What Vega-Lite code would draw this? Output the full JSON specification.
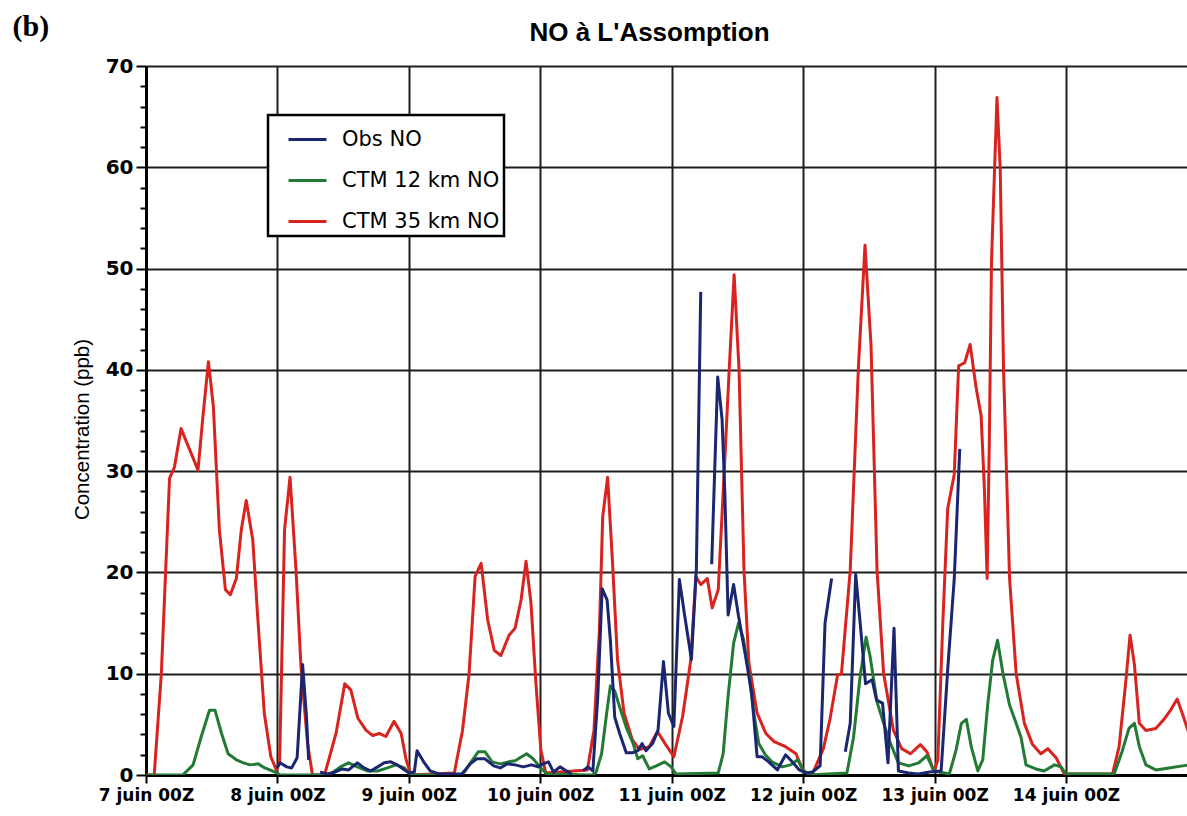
{
"$schema": "https://vega.github.io/schema/vega-lite/v6.json",
"width": 1041, "height": 709,
"autosize": {"type": "none"},
"padding": {"left": 146, "top": 66, "right": 0, "bottom": 41},
"background": "white",
"config": {"view": {"stroke": null}},
"data": {"values": [
{"s":"CTM 35 km NO","g":"r","h":0,"v":0},{"s":"CTM 35 km NO","g":"r","h":1.5,"v":0},{"s":"CTM 35 km NO","g":"r","h":2.8,"v":10.0},{"s":"CTM 35 km NO","g":"r","h":4.3,"v":29.3},{"s":"CTM 35 km NO","g":"r","h":5.2,"v":30.4},{"s":"CTM 35 km NO","g":"r","h":6.4,"v":34.2},{"s":"CTM 35 km NO","g":"r","h":9.5,"v":30.1},{"s":"CTM 35 km NO","g":"r","h":10.4,"v":35.4},{"s":"CTM 35 km NO","g":"r","h":11.4,"v":40.8},{"s":"CTM 35 km NO","g":"r","h":12.3,"v":36.4},{"s":"CTM 35 km NO","g":"r","h":13.4,"v":24.2},{"s":"CTM 35 km NO","g":"r","h":14.5,"v":18.3},{"s":"CTM 35 km NO","g":"r","h":15.4,"v":17.8},{"s":"CTM 35 km NO","g":"r","h":16.5,"v":19.4},{"s":"CTM 35 km NO","g":"r","h":17.4,"v":24.2},{"s":"CTM 35 km NO","g":"r","h":18.3,"v":27.1},{"s":"CTM 35 km NO","g":"r","h":19.5,"v":23.2},{"s":"CTM 35 km NO","g":"r","h":20.4,"v":15.6},{"s":"CTM 35 km NO","g":"r","h":21.6,"v":6.1},{"s":"CTM 35 km NO","g":"r","h":22.8,"v":1.8},{"s":"CTM 35 km NO","g":"r","h":23.8,"v":0.5},{"s":"CTM 35 km NO","g":"r","h":24.4,"v":1.2},{"s":"CTM 35 km NO","g":"r","h":25.3,"v":24.2},{"s":"CTM 35 km NO","g":"r","h":26.3,"v":29.4},{"s":"CTM 35 km NO","g":"r","h":27.4,"v":20.2},{"s":"CTM 35 km NO","g":"r","h":28.3,"v":10.7},{"s":"CTM 35 km NO","g":"r","h":29.5,"v":3.1},{"s":"CTM 35 km NO","g":"r","h":30.4,"v":0},{"s":"CTM 35 km NO","g":"r","h":32.6,"v":0},{"s":"CTM 35 km NO","g":"r","h":34.7,"v":4.1},{"s":"CTM 35 km NO","g":"r","h":36.3,"v":9.0},{"s":"CTM 35 km NO","g":"r","h":37.4,"v":8.4},{"s":"CTM 35 km NO","g":"r","h":38.7,"v":5.6},{"s":"CTM 35 km NO","g":"r","h":40.2,"v":4.4},{"s":"CTM 35 km NO","g":"r","h":41.4,"v":3.9},{"s":"CTM 35 km NO","g":"r","h":42.6,"v":4.1},{"s":"CTM 35 km NO","g":"r","h":43.8,"v":3.8},{"s":"CTM 35 km NO","g":"r","h":45.3,"v":5.3},{"s":"CTM 35 km NO","g":"r","h":46.6,"v":4.1},{"s":"CTM 35 km NO","g":"r","h":47.5,"v":1.5},{"s":"CTM 35 km NO","g":"r","h":48.4,"v":0},{"s":"CTM 35 km NO","g":"r","h":56.3,"v":0.2},{"s":"CTM 35 km NO","g":"r","h":57.8,"v":4.4},{"s":"CTM 35 km NO","g":"r","h":59.0,"v":10.0},{"s":"CTM 35 km NO","g":"r","h":60.1,"v":19.6},{"s":"CTM 35 km NO","g":"r","h":61.2,"v":20.9},{"s":"CTM 35 km NO","g":"r","h":62.4,"v":15.3},{"s":"CTM 35 km NO","g":"r","h":63.6,"v":12.3},{"s":"CTM 35 km NO","g":"r","h":64.8,"v":11.8},{"s":"CTM 35 km NO","g":"r","h":66.3,"v":13.8},{"s":"CTM 35 km NO","g":"r","h":67.4,"v":14.5},{"s":"CTM 35 km NO","g":"r","h":68.5,"v":17.3},{"s":"CTM 35 km NO","g":"r","h":69.4,"v":21.1},{"s":"CTM 35 km NO","g":"r","h":70.3,"v":17.0},{"s":"CTM 35 km NO","g":"r","h":71.2,"v":9.1},{"s":"CTM 35 km NO","g":"r","h":72.1,"v":2.5},{"s":"CTM 35 km NO","g":"r","h":73.0,"v":0.2},{"s":"CTM 35 km NO","g":"r","h":80.6,"v":0.5},{"s":"CTM 35 km NO","g":"r","h":81.8,"v":4.4},{"s":"CTM 35 km NO","g":"r","h":82.8,"v":14.3},{"s":"CTM 35 km NO","g":"r","h":83.4,"v":25.5},{"s":"CTM 35 km NO","g":"r","h":84.3,"v":29.4},{"s":"CTM 35 km NO","g":"r","h":85.2,"v":20.9},{"s":"CTM 35 km NO","g":"r","h":86.1,"v":11.4},{"s":"CTM 35 km NO","g":"r","h":87.3,"v":6.1},{"s":"CTM 35 km NO","g":"r","h":88.8,"v":3.5},{"s":"CTM 35 km NO","g":"r","h":90.1,"v":2.5},{"s":"CTM 35 km NO","g":"r","h":91.9,"v":2.8},{"s":"CTM 35 km NO","g":"r","h":93.4,"v":4.3},{"s":"CTM 35 km NO","g":"r","h":94.9,"v":3.0},{"s":"CTM 35 km NO","g":"r","h":96.4,"v":1.8},{"s":"CTM 35 km NO","g":"r","h":98.0,"v":5.8},{"s":"CTM 35 km NO","g":"r","h":99.5,"v":11.4},{"s":"CTM 35 km NO","g":"r","h":100.4,"v":19.6},{"s":"CTM 35 km NO","g":"r","h":101.3,"v":18.8},{"s":"CTM 35 km NO","g":"r","h":102.5,"v":19.4},{"s":"CTM 35 km NO","g":"r","h":103.4,"v":16.5},{"s":"CTM 35 km NO","g":"r","h":104.5,"v":18.3},{"s":"CTM 35 km NO","g":"r","h":105.6,"v":30.1},{"s":"CTM 35 km NO","g":"r","h":106.5,"v":40.0},{"s":"CTM 35 km NO","g":"r","h":107.4,"v":49.4},{"s":"CTM 35 km NO","g":"r","h":108.3,"v":40.0},{"s":"CTM 35 km NO","g":"r","h":109.2,"v":20.2},{"s":"CTM 35 km NO","g":"r","h":110.1,"v":11.0},{"s":"CTM 35 km NO","g":"r","h":111.6,"v":6.1},{"s":"CTM 35 km NO","g":"r","h":113.2,"v":4.1},{"s":"CTM 35 km NO","g":"r","h":114.7,"v":3.3},{"s":"CTM 35 km NO","g":"r","h":116.8,"v":2.8},{"s":"CTM 35 km NO","g":"r","h":118.7,"v":2.1},{"s":"CTM 35 km NO","g":"r","h":120.0,"v":0.4},{"s":"CTM 35 km NO","g":"r","h":121.6,"v":0},{"s":"CTM 35 km NO","g":"r","h":123.7,"v":2.6},{"s":"CTM 35 km NO","g":"r","h":124.9,"v":5.5},{"s":"CTM 35 km NO","g":"r","h":126.3,"v":9.9},{"s":"CTM 35 km NO","g":"r","h":127.0,"v":10.0},{"s":"CTM 35 km NO","g":"r","h":128.6,"v":20.2},{"s":"CTM 35 km NO","g":"r","h":130.1,"v":40.3},{"s":"CTM 35 km NO","g":"r","h":131.3,"v":52.3},{"s":"CTM 35 km NO","g":"r","h":132.4,"v":42.4},{"s":"CTM 35 km NO","g":"r","h":133.5,"v":20.2},{"s":"CTM 35 km NO","g":"r","h":134.7,"v":10.0},{"s":"CTM 35 km NO","g":"r","h":136.5,"v":4.4},{"s":"CTM 35 km NO","g":"r","h":138.0,"v":2.6},{"s":"CTM 35 km NO","g":"r","h":139.6,"v":2.1},{"s":"CTM 35 km NO","g":"r","h":141.4,"v":3.0},{"s":"CTM 35 km NO","g":"r","h":142.6,"v":2.3},{"s":"CTM 35 km NO","g":"r","h":143.9,"v":0.3},{"s":"CTM 35 km NO","g":"r","h":144.6,"v":1.5},{"s":"CTM 35 km NO","g":"r","h":145.5,"v":14.9},{"s":"CTM 35 km NO","g":"r","h":146.4,"v":26.3},{"s":"CTM 35 km NO","g":"r","h":147.6,"v":29.7},{"s":"CTM 35 km NO","g":"r","h":148.4,"v":40.4},{"s":"CTM 35 km NO","g":"r","h":149.5,"v":40.7},{"s":"CTM 35 km NO","g":"r","h":150.5,"v":42.5},{"s":"CTM 35 km NO","g":"r","h":151.6,"v":38.2},{"s":"CTM 35 km NO","g":"r","h":152.5,"v":35.5},{"s":"CTM 35 km NO","g":"r","h":153.1,"v":28.3},{"s":"CTM 35 km NO","g":"r","h":153.6,"v":19.4},{"s":"CTM 35 km NO","g":"r","h":154.0,"v":32.8},{"s":"CTM 35 km NO","g":"r","h":154.4,"v":50.7},{"s":"CTM 35 km NO","g":"r","h":155.4,"v":66.9},{"s":"CTM 35 km NO","g":"r","h":156.0,"v":59.7},{"s":"CTM 35 km NO","g":"r","h":156.6,"v":40.0},{"s":"CTM 35 km NO","g":"r","h":157.7,"v":19.4},{"s":"CTM 35 km NO","g":"r","h":158.9,"v":10.0},{"s":"CTM 35 km NO","g":"r","h":160.4,"v":5.1},{"s":"CTM 35 km NO","g":"r","h":161.9,"v":3.0},{"s":"CTM 35 km NO","g":"r","h":163.4,"v":2.1},{"s":"CTM 35 km NO","g":"r","h":164.7,"v":2.6},{"s":"CTM 35 km NO","g":"r","h":166.2,"v":1.7},{"s":"CTM 35 km NO","g":"r","h":167.7,"v":0.1},{"s":"CTM 35 km NO","g":"r","h":176.5,"v":0.1},{"s":"CTM 35 km NO","g":"r","h":177.7,"v":2.8},{"s":"CTM 35 km NO","g":"r","h":178.9,"v":9.1},{"s":"CTM 35 km NO","g":"r","h":179.7,"v":13.8},{"s":"CTM 35 km NO","g":"r","h":180.5,"v":10.9},{"s":"CTM 35 km NO","g":"r","h":181.4,"v":5.1},{"s":"CTM 35 km NO","g":"r","h":182.6,"v":4.4},{"s":"CTM 35 km NO","g":"r","h":184.4,"v":4.6},{"s":"CTM 35 km NO","g":"r","h":185.9,"v":5.5},{"s":"CTM 35 km NO","g":"r","h":187.1,"v":6.4},{"s":"CTM 35 km NO","g":"r","h":188.3,"v":7.5},{"s":"CTM 35 km NO","g":"r","h":189.3,"v":6.0},{"s":"CTM 35 km NO","g":"r","h":190.5,"v":4.0},
{"s":"CTM 12 km NO","g":"v","h":0,"v":0},{"s":"CTM 12 km NO","g":"v","h":6.7,"v":0},{"s":"CTM 12 km NO","g":"v","h":7.3,"v":0.3},{"s":"CTM 12 km NO","g":"v","h":8.6,"v":1.0},{"s":"CTM 12 km NO","g":"v","h":10.1,"v":3.8},{"s":"CTM 12 km NO","g":"v","h":11.6,"v":6.4},{"s":"CTM 12 km NO","g":"v","h":12.6,"v":6.4},{"s":"CTM 12 km NO","g":"v","h":13.8,"v":4.1},{"s":"CTM 12 km NO","g":"v","h":15.0,"v":2.1},{"s":"CTM 12 km NO","g":"v","h":16.5,"v":1.5},{"s":"CTM 12 km NO","g":"v","h":17.8,"v":1.2},{"s":"CTM 12 km NO","g":"v","h":19.0,"v":1.0},{"s":"CTM 12 km NO","g":"v","h":20.5,"v":1.1},{"s":"CTM 12 km NO","g":"v","h":21.7,"v":0.7},{"s":"CTM 12 km NO","g":"v","h":23.9,"v":0.2},{"s":"CTM 12 km NO","g":"v","h":24.5,"v":0},{"s":"CTM 12 km NO","g":"v","h":33.0,"v":0},{"s":"CTM 12 km NO","g":"v","h":33.7,"v":0.1},{"s":"CTM 12 km NO","g":"v","h":35.5,"v":0.8},{"s":"CTM 12 km NO","g":"v","h":37.0,"v":1.2},{"s":"CTM 12 km NO","g":"v","h":38.6,"v":0.8},{"s":"CTM 12 km NO","g":"v","h":40.4,"v":0.4},{"s":"CTM 12 km NO","g":"v","h":42.3,"v":0.4},{"s":"CTM 12 km NO","g":"v","h":44.1,"v":0.7},{"s":"CTM 12 km NO","g":"v","h":45.6,"v":1.0},{"s":"CTM 12 km NO","g":"v","h":47.2,"v":0.7},{"s":"CTM 12 km NO","g":"v","h":48.0,"v":0.2},{"s":"CTM 12 km NO","g":"v","h":49.0,"v":0},{"s":"CTM 12 km NO","g":"v","h":57.5,"v":0},{"s":"CTM 12 km NO","g":"v","h":58.3,"v":0.4},{"s":"CTM 12 km NO","g":"v","h":59.5,"v":1.4},{"s":"CTM 12 km NO","g":"v","h":60.7,"v":2.3},{"s":"CTM 12 km NO","g":"v","h":61.9,"v":2.3},{"s":"CTM 12 km NO","g":"v","h":63.2,"v":1.3},{"s":"CTM 12 km NO","g":"v","h":64.7,"v":1.1},{"s":"CTM 12 km NO","g":"v","h":66.2,"v":1.3},{"s":"CTM 12 km NO","g":"v","h":67.4,"v":1.4},{"s":"CTM 12 km NO","g":"v","h":68.6,"v":1.8},{"s":"CTM 12 km NO","g":"v","h":69.5,"v":2.1},{"s":"CTM 12 km NO","g":"v","h":70.7,"v":1.6},{"s":"CTM 12 km NO","g":"v","h":71.9,"v":0.8},{"s":"CTM 12 km NO","g":"v","h":73.2,"v":0.1},{"s":"CTM 12 km NO","g":"v","h":81.5,"v":0},{"s":"CTM 12 km NO","g":"v","h":82.2,"v":0.3},{"s":"CTM 12 km NO","g":"v","h":83.2,"v":2.1},{"s":"CTM 12 km NO","g":"v","h":84.1,"v":6.0},{"s":"CTM 12 km NO","g":"v","h":84.8,"v":8.8},{"s":"CTM 12 km NO","g":"v","h":85.6,"v":8.3},{"s":"CTM 12 km NO","g":"v","h":86.5,"v":6.7},{"s":"CTM 12 km NO","g":"v","h":87.7,"v":4.7},{"s":"CTM 12 km NO","g":"v","h":88.9,"v":3.2},{"s":"CTM 12 km NO","g":"v","h":89.8,"v":1.6},{"s":"CTM 12 km NO","g":"v","h":90.7,"v":1.9},{"s":"CTM 12 km NO","g":"v","h":91.9,"v":0.6},{"s":"CTM 12 km NO","g":"v","h":93.2,"v":0.9},{"s":"CTM 12 km NO","g":"v","h":94.7,"v":1.3},{"s":"CTM 12 km NO","g":"v","h":95.9,"v":0.8},{"s":"CTM 12 km NO","g":"v","h":96.8,"v":0.1},{"s":"CTM 12 km NO","g":"v","h":104.5,"v":0.2},{"s":"CTM 12 km NO","g":"v","h":105.4,"v":2.1},{"s":"CTM 12 km NO","g":"v","h":106.3,"v":7.8},{"s":"CTM 12 km NO","g":"v","h":107.3,"v":13.0},{"s":"CTM 12 km NO","g":"v","h":108.2,"v":15.0},{"s":"CTM 12 km NO","g":"v","h":109.1,"v":13.4},{"s":"CTM 12 km NO","g":"v","h":110.0,"v":10.4},{"s":"CTM 12 km NO","g":"v","h":111.0,"v":6.1},{"s":"CTM 12 km NO","g":"v","h":111.9,"v":3.1},{"s":"CTM 12 km NO","g":"v","h":113.1,"v":2.0},{"s":"CTM 12 km NO","g":"v","h":114.3,"v":1.3},{"s":"CTM 12 km NO","g":"v","h":116.2,"v":0.8},{"s":"CTM 12 km NO","g":"v","h":117.7,"v":1.0},{"s":"CTM 12 km NO","g":"v","h":119.0,"v":1.5},{"s":"CTM 12 km NO","g":"v","h":120.0,"v":0.5},{"s":"CTM 12 km NO","g":"v","h":121.0,"v":0},{"s":"CTM 12 km NO","g":"v","h":128.0,"v":0.2},{"s":"CTM 12 km NO","g":"v","h":129.2,"v":3.7},{"s":"CTM 12 km NO","g":"v","h":130.4,"v":9.7},{"s":"CTM 12 km NO","g":"v","h":131.5,"v":13.6},{"s":"CTM 12 km NO","g":"v","h":132.2,"v":11.8},{"s":"CTM 12 km NO","g":"v","h":133.5,"v":7.2},{"s":"CTM 12 km NO","g":"v","h":134.7,"v":5.1},{"s":"CTM 12 km NO","g":"v","h":135.9,"v":3.2},{"s":"CTM 12 km NO","g":"v","h":137.4,"v":1.2},{"s":"CTM 12 km NO","g":"v","h":139.3,"v":0.9},{"s":"CTM 12 km NO","g":"v","h":141.1,"v":1.2},{"s":"CTM 12 km NO","g":"v","h":142.6,"v":1.9},{"s":"CTM 12 km NO","g":"v","h":143.9,"v":0.4},{"s":"CTM 12 km NO","g":"v","h":146.7,"v":0.1},{"s":"CTM 12 km NO","g":"v","h":147.9,"v":2.4},{"s":"CTM 12 km NO","g":"v","h":148.9,"v":5.1},{"s":"CTM 12 km NO","g":"v","h":149.8,"v":5.5},{"s":"CTM 12 km NO","g":"v","h":150.7,"v":2.8},{"s":"CTM 12 km NO","g":"v","h":151.9,"v":0.4},{"s":"CTM 12 km NO","g":"v","h":152.8,"v":1.5},{"s":"CTM 12 km NO","g":"v","h":153.7,"v":6.9},{"s":"CTM 12 km NO","g":"v","h":154.6,"v":11.3},{"s":"CTM 12 km NO","g":"v","h":155.5,"v":13.3},{"s":"CTM 12 km NO","g":"v","h":156.5,"v":10.0},{"s":"CTM 12 km NO","g":"v","h":157.7,"v":6.9},{"s":"CTM 12 km NO","g":"v","h":158.9,"v":5.1},{"s":"CTM 12 km NO","g":"v","h":159.8,"v":3.7},{"s":"CTM 12 km NO","g":"v","h":160.7,"v":1.0},{"s":"CTM 12 km NO","g":"v","h":162.5,"v":0.6},{"s":"CTM 12 km NO","g":"v","h":164.0,"v":0.4},{"s":"CTM 12 km NO","g":"v","h":165.9,"v":1.0},{"s":"CTM 12 km NO","g":"v","h":167.1,"v":0.8},{"s":"CTM 12 km NO","g":"v","h":168.0,"v":0.1},{"s":"CTM 12 km NO","g":"v","h":176.8,"v":0.1},{"s":"CTM 12 km NO","g":"v","h":178.3,"v":2.4},{"s":"CTM 12 km NO","g":"v","h":179.5,"v":4.6},{"s":"CTM 12 km NO","g":"v","h":180.5,"v":5.1},{"s":"CTM 12 km NO","g":"v","h":181.4,"v":2.8},{"s":"CTM 12 km NO","g":"v","h":182.6,"v":1.0},{"s":"CTM 12 km NO","g":"v","h":184.4,"v":0.5},{"s":"CTM 12 km NO","g":"v","h":186.8,"v":0.7},{"s":"CTM 12 km NO","g":"v","h":189.3,"v":0.9},{"s":"CTM 12 km NO","g":"v","h":190.5,"v":1.0},
{"s":"Obs NO","g":"b1","h":23.9,"v":0.7},{"s":"Obs NO","g":"b1","h":24.5,"v":1.2},{"s":"Obs NO","g":"b1","h":25.7,"v":0.8},{"s":"Obs NO","g":"b1","h":26.6,"v":0.7},{"s":"Obs NO","g":"b1","h":27.6,"v":1.7},{"s":"Obs NO","g":"b1","h":28.6,"v":10.9},{"s":"Obs NO","g":"b1","h":29.3,"v":5.8},{"s":"Obs NO","g":"b1","h":29.7,"v":1.5},
{"s":"Obs NO","g":"b2","h":31.8,"v":0.3},{"s":"Obs NO","g":"b2","h":33.1,"v":0.1},{"s":"Obs NO","g":"b2","h":34.6,"v":0.3},{"s":"Obs NO","g":"b2","h":35.8,"v":0.6},{"s":"Obs NO","g":"b2","h":37.0,"v":0.5},{"s":"Obs NO","g":"b2","h":38.6,"v":1.2},{"s":"Obs NO","g":"b2","h":39.8,"v":0.7},{"s":"Obs NO","g":"b2","h":41.0,"v":0.4},{"s":"Obs NO","g":"b2","h":42.3,"v":0.8},{"s":"Obs NO","g":"b2","h":43.5,"v":1.2},{"s":"Obs NO","g":"b2","h":44.7,"v":1.3},{"s":"Obs NO","g":"b2","h":45.9,"v":1.0},{"s":"Obs NO","g":"b2","h":47.2,"v":0.5},{"s":"Obs NO","g":"b2","h":48.1,"v":0.2},{"s":"Obs NO","g":"b2","h":49.0,"v":0.3},{"s":"Obs NO","g":"b2","h":49.5,"v":2.4},{"s":"Obs NO","g":"b2","h":50.7,"v":1.3},{"s":"Obs NO","g":"b2","h":51.9,"v":0.4},{"s":"Obs NO","g":"b2","h":53.5,"v":0.1},{"s":"Obs NO","g":"b2","h":55.9,"v":0.1},{"s":"Obs NO","g":"b2","h":57.7,"v":0.1},{"s":"Obs NO","g":"b2","h":59.2,"v":1.1},{"s":"Obs NO","g":"b2","h":60.4,"v":1.6},{"s":"Obs NO","g":"b2","h":61.9,"v":1.6},{"s":"Obs NO","g":"b2","h":63.5,"v":0.9},{"s":"Obs NO","g":"b2","h":64.7,"v":0.7},{"s":"Obs NO","g":"b2","h":65.9,"v":1.1},{"s":"Obs NO","g":"b2","h":67.4,"v":1.0},{"s":"Obs NO","g":"b2","h":68.9,"v":0.8},{"s":"Obs NO","g":"b2","h":70.4,"v":1.0},{"s":"Obs NO","g":"b2","h":71.6,"v":0.8},{"s":"Obs NO","g":"b2","h":72.5,"v":1.1},{"s":"Obs NO","g":"b2","h":73.5,"v":1.3},{"s":"Obs NO","g":"b2","h":74.4,"v":0.3},{"s":"Obs NO","g":"b2","h":75.6,"v":0.8},{"s":"Obs NO","g":"b2","h":76.8,"v":0.4},{"s":"Obs NO","g":"b2","h":77.7,"v":0.1},
{"s":"Obs NO","g":"b3","h":79.8,"v":0.4},{"s":"Obs NO","g":"b3","h":80.7,"v":0.8},{"s":"Obs NO","g":"b3","h":81.6,"v":0.4},{"s":"Obs NO","g":"b3","h":82.5,"v":7.7},{"s":"Obs NO","g":"b3","h":83.3,"v":18.4},{"s":"Obs NO","g":"b3","h":84.2,"v":17.3},{"s":"Obs NO","g":"b3","h":84.8,"v":13.3},{"s":"Obs NO","g":"b3","h":85.6,"v":5.7},{"s":"Obs NO","g":"b3","h":86.5,"v":4.1},{"s":"Obs NO","g":"b3","h":87.7,"v":2.2},{"s":"Obs NO","g":"b3","h":88.9,"v":2.2},{"s":"Obs NO","g":"b3","h":89.8,"v":2.4},{"s":"Obs NO","g":"b3","h":90.6,"v":3.1},{"s":"Obs NO","g":"b3","h":91.3,"v":2.4},{"s":"Obs NO","g":"b3","h":92.5,"v":3.1},{"s":"Obs NO","g":"b3","h":93.5,"v":4.4},{"s":"Obs NO","g":"b3","h":94.5,"v":11.2},{"s":"Obs NO","g":"b3","h":95.4,"v":6.1},{"s":"Obs NO","g":"b3","h":96.4,"v":4.8},{"s":"Obs NO","g":"b3","h":97.4,"v":19.3},{"s":"Obs NO","g":"b3","h":98.3,"v":16.0},{"s":"Obs NO","g":"b3","h":99.6,"v":11.4},{"s":"Obs NO","g":"b3","h":100.5,"v":20.3},{"s":"Obs NO","g":"b3","h":101.3,"v":47.7},
{"s":"Obs NO","g":"b4","h":103.3,"v":20.8},{"s":"Obs NO","g":"b4","h":104.4,"v":39.3},{"s":"Obs NO","g":"b4","h":105.2,"v":35.1},{"s":"Obs NO","g":"b4","h":105.7,"v":27.9},{"s":"Obs NO","g":"b4","h":106.3,"v":15.8},{"s":"Obs NO","g":"b4","h":107.3,"v":18.8},{"s":"Obs NO","g":"b4","h":108.2,"v":15.7},{"s":"Obs NO","g":"b4","h":109.4,"v":12.0},{"s":"Obs NO","g":"b4","h":110.6,"v":8.1},{"s":"Obs NO","g":"b4","h":111.6,"v":1.8},{"s":"Obs NO","g":"b4","h":112.5,"v":1.8},{"s":"Obs NO","g":"b4","h":113.7,"v":1.3},{"s":"Obs NO","g":"b4","h":115.3,"v":0.5},{"s":"Obs NO","g":"b4","h":116.8,"v":2.0},{"s":"Obs NO","g":"b4","h":118.0,"v":1.3},{"s":"Obs NO","g":"b4","h":119.3,"v":0.5},{"s":"Obs NO","g":"b4","h":120.5,"v":0.2},{"s":"Obs NO","g":"b4","h":121.7,"v":0.3},{"s":"Obs NO","g":"b4","h":123.1,"v":0.9},{"s":"Obs NO","g":"b4","h":124.0,"v":15.0},{"s":"Obs NO","g":"b4","h":125.2,"v":19.4},
{"s":"Obs NO","g":"b5","h":127.7,"v":2.3},{"s":"Obs NO","g":"b5","h":128.6,"v":5.1},{"s":"Obs NO","g":"b5","h":129.6,"v":19.8},{"s":"Obs NO","g":"b5","h":130.5,"v":14.5},{"s":"Obs NO","g":"b5","h":131.4,"v":9.0},{"s":"Obs NO","g":"b5","h":132.6,"v":9.4},{"s":"Obs NO","g":"b5","h":133.4,"v":7.4},{"s":"Obs NO","g":"b5","h":134.5,"v":7.1},{"s":"Obs NO","g":"b5","h":135.5,"v":1.2},{"s":"Obs NO","g":"b5","h":136.6,"v":14.5},{"s":"Obs NO","g":"b5","h":137.4,"v":0.4},{"s":"Obs NO","g":"b5","h":139.3,"v":0.2},{"s":"Obs NO","g":"b5","h":141.0,"v":0.1},{"s":"Obs NO","g":"b5","h":143.1,"v":0.3},{"s":"Obs NO","g":"b5","h":145.2,"v":0.4},{"s":"Obs NO","g":"b5","h":146.4,"v":10.4},{"s":"Obs NO","g":"b5","h":147.6,"v":19.4},{"s":"Obs NO","g":"b5","h":148.6,"v":32.2}
]},
"layer": [
{
"transform": [{"filter": "datum.s !== 'Obs NO'"}],
"mark": {"type": "line", "strokeWidth": 3, "strokeJoin": "round", "clip": true},
"encoding": {
"x": {"field": "h", "type": "quantitative", "scale": {"domain": [0, 190.1], "nice": false, "zero": false},
"axis": {"orient": "bottom", "values": [0, 24, 48, 72, 96, 120, 144, 168], "labelExpr": "(7 + datum.value / 24) + ' juin 00Z'", "labelFont": "DejaVu Sans", "labelFontWeight": "bold", "labelFontSize": 17, "labelColor": "black", "labelPadding": 4, "labelOverlap": false, "labelBound": false, "labelFlush": false, "tickSize": 8, "tickWidth": 2, "tickColor": "black", "domainColor": "black", "domainWidth": 3, "grid": true, "gridColor": "#1e1e1e", "gridWidth": 2, "gridOpacity": 1, "title": "(b)", "titleFont": "Liberation Serif", "titleFontSize": 30, "titleFontWeight": "bold", "titleColor": "black", "titleX": -134, "titleY": -740, "titleAlign": "left", "titleBaseline": "alphabetic", "titleAngle": 0}},
"y": {"field": "v", "type": "quantitative", "scale": {"domain": [0, 70], "nice": false},
"axis": {"orient": "left", "values": [0,2,4,6,8,10,12,14,16,18,20,22,24,26,28,30,32,34,36,38,40,42,44,46,48,50,52,54,56,58,60,62,64,66,68,70], "labelExpr": "datum.value % 10 === 0 ? datum.label : ''", "labelFont": "DejaVu Sans", "labelFontWeight": "bold", "labelFontSize": 20, "labelColor": "black", "labelPadding": 3, "labelOverlap": false, "tickSize": {"condition": {"test": "datum.value % 10 === 0", "value": 10}, "value": 6}, "tickWidth": 2, "tickColor": "black", "domainColor": "black", "domainWidth": 3, "grid": true, "gridColor": "#1e1e1e", "gridWidth": 2, "gridOpacity": {"condition": {"test": "datum.value % 10 === 0", "value": 1}, "value": 0}, "title": "Concentration (ppb)", "titleFont": "Liberation Sans", "titleFontSize": 20.5, "titleFontWeight": "normal", "titleColor": "black", "titlePadding": 6, "titleY": 363, "titleX": -54}},
"color": {"field": "s", "type": "nominal", "scale": {"domain": ["Obs NO", "CTM 12 km NO", "CTM 35 km NO"], "range": ["#1b2670", "#237a35", "#d8231f"]},
"legend": {"orient": "none", "legendX": 122, "legendY": 49, "title": null, "direction": "vertical", "fillColor": "white", "strokeColor": "black", "padding": 4, "symbolOffset": 15, "symbolType": "stroke", "symbolSize": 1444, "symbolStrokeWidth": 3, "labelFont": "DejaVu Sans", "labelFontSize": 21, "labelColor": "black", "labelOffset": 14, "rowPadding": 10, "encode": {"legend": {"update": {"strokeWidth": {"value": 2.5}}}}}},
"detail": {"field": "g"}
}
},
{
"transform": [{"filter": "datum.s === 'Obs NO'"}],
"mark": {"type": "line", "strokeWidth": 3, "strokeJoin": "round", "clip": true},
"encoding": {
"x": {"field": "h", "type": "quantitative",
"axis": {"orient": "top", "labels": false, "ticks": false, "domain": false, "grid": false, "title": "NO à L'Assomption", "titleFont": "Liberation Sans", "titleFontSize": 26, "titleFontWeight": "bold", "titleColor": "black", "titleX": 503, "titleY": -26, "titleAlign": "center", "titleBaseline": "alphabetic", "titleAngle": 0}},
"y": {"field": "v", "type": "quantitative", "axis": null},
"color": {"field": "s", "type": "nominal"},
"detail": {"field": "g"}
}
}
],
"resolve": {"axis": {"x": "independent", "y": "independent"}}
}
